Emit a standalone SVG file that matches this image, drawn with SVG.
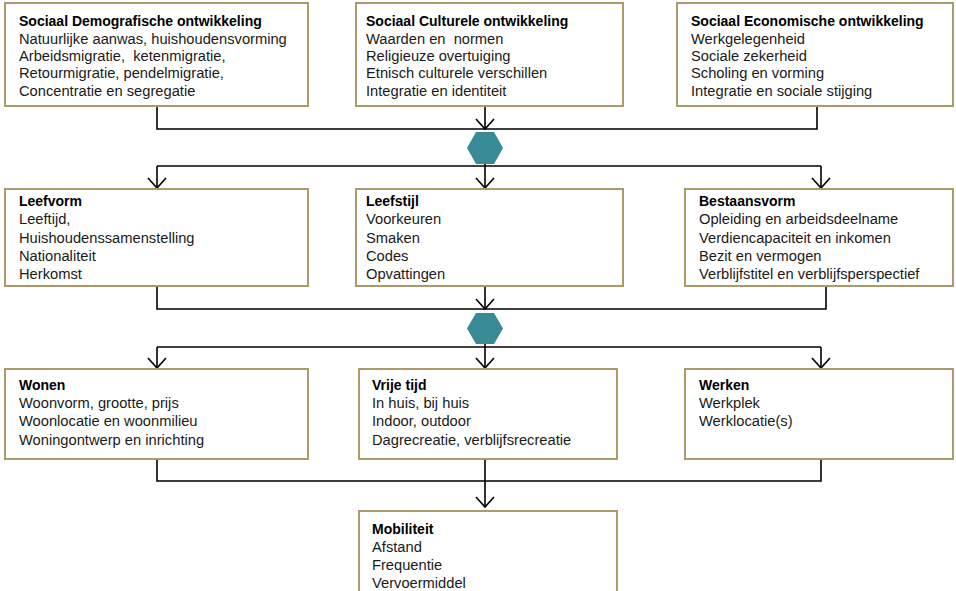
<svg xmlns="http://www.w3.org/2000/svg" width="956" height="591" viewBox="0 0 956 591">
<defs>
<style>
.box{fill:#fff;stroke:#ab9a6a;stroke-width:2}
.ln{fill:none;stroke:#000;stroke-width:1.6}
.hex{fill:#388b94}
text{font-family:"Liberation Sans",Arial,sans-serif;font-size:14.7px;fill:#1a1a1a;white-space:pre}
.t{font-weight:bold;font-size:14px;fill:#000}
</style>
<marker id="ah" markerUnits="userSpaceOnUse" markerWidth="14" markerHeight="22" refX="11" refY="10" orient="auto" viewBox="0 0 14 22">
<polyline points="1,1 11,10 1,19" fill="none" stroke="#000" stroke-width="1.6"/>
</marker>
</defs>
<rect width="956" height="591" fill="#fff"/>
<g id="connectors">
<path class="ln" d="M157,106 V129 H817 V106"/>
<path class="ln" d="M485,106 V129" marker-end="url(#ah)"/>
<path class="ln" d="M157,166 H821"/>
<path class="ln" d="M157,166 V188" marker-end="url(#ah)"/>
<path class="ln" d="M821,166 V188" marker-end="url(#ah)"/>
<path class="ln" d="M485,164 V188" marker-end="url(#ah)"/>
<path class="ln" d="M157,286 V309 H826 V286"/>
<path class="ln" d="M485,286 V309" marker-end="url(#ah)"/>
<path class="ln" d="M157,347 H821"/>
<path class="ln" d="M157,347 V368" marker-end="url(#ah)"/>
<path class="ln" d="M821,347 V368" marker-end="url(#ah)"/>
<path class="ln" d="M485,344 V368" marker-end="url(#ah)"/>
<path class="ln" d="M157,459 V481 H821 V459"/>
<path class="ln" d="M485,459 V507" marker-end="url(#ah)"/>
</g>
<g id="hex1"><polygon class="hex" points="467,148 476,132 494,132 503,148 494,164 476,164"/></g>
<g id="hex2"><polygon class="hex" points="467,328.5 476,313 494,313 503,328.5 494,344 476,344"/></g>
<g id="n-demo">
<rect class="box" x="5" y="3" width="303" height="103"/>
<text x="19" y="26" class="t">Sociaal Demografische ontwikkeling</text>
<text x="19" y="43.5">Natuurlijke aanwas, huishoudensvorming</text>
<text x="19" y="61">Arbeidsmigratie,  ketenmigratie,</text>
<text x="19" y="78">Retourmigratie, pendelmigratie,</text>
<text x="19" y="95.5">Concentratie en segregatie</text>
</g>
<g id="n-cult">
<rect class="box" x="356" y="3" width="267" height="103"/>
<text x="366" y="26" class="t">Sociaal Culturele ontwikkeling</text>
<text x="366" y="43.5">Waarden en  normen</text>
<text x="366" y="61">Religieuze overtuiging</text>
<text x="366" y="78">Etnisch culturele verschillen</text>
<text x="366" y="95.5">Integratie en identiteit</text>
</g>
<g id="n-econ">
<rect class="box" x="677" y="3" width="276" height="103"/>
<text x="691" y="26" class="t">Sociaal Economische ontwikkeling</text>
<text x="691" y="43.5">Werkgelegenheid</text>
<text x="691" y="61">Sociale zekerheid</text>
<text x="691" y="78">Scholing en vorming</text>
<text x="691" y="95.5">Integratie en sociale stijging</text>
</g>
<g id="n-leefvorm">
<rect class="box" x="5" y="189" width="303" height="97"/>
<text x="19" y="206" class="t">Leefvorm</text>
<text x="19" y="224">Leeftijd,</text>
<text x="19" y="242.5">Huishoudenssamenstelling</text>
<text x="19" y="261">Nationaliteit</text>
<text x="19" y="279">Herkomst</text>
</g>
<g id="n-leefstijl">
<rect class="box" x="356" y="189" width="267" height="97"/>
<text x="366" y="206" class="t">Leefstijl</text>
<text x="366" y="224">Voorkeuren</text>
<text x="366" y="242.5">Smaken</text>
<text x="366" y="261">Codes</text>
<text x="366" y="279">Opvattingen</text>
</g>
<g id="n-bestaansvorm">
<rect class="box" x="685" y="189" width="268" height="97"/>
<text x="699" y="206" class="t">Bestaansvorm</text>
<text x="699" y="224">Opleiding en arbeidsdeelname</text>
<text x="699" y="242.5">Verdiencapaciteit en inkomen</text>
<text x="699" y="261">Bezit en vermogen</text>
<text x="699" y="279">Verblijfstitel en verblijfsperspectief</text>
</g>
<g id="n-wonen">
<rect class="box" x="5" y="369" width="303" height="90"/>
<text x="19" y="390" class="t">Wonen</text>
<text x="19" y="408">Woonvorm, grootte, prijs</text>
<text x="19" y="426">Woonlocatie en woonmilieu</text>
<text x="19" y="444.5">Woningontwerp en inrichting</text>
</g>
<g id="n-vrijetijd">
<rect class="box" x="359" y="369" width="258" height="90"/>
<text x="372" y="390" class="t">Vrije tijd</text>
<text x="372" y="408">In huis, bij huis</text>
<text x="372" y="426">Indoor, outdoor</text>
<text x="372" y="444.5">Dagrecreatie, verblijfsrecreatie</text>
</g>
<g id="n-werken">
<rect class="box" x="685" y="369" width="268" height="90"/>
<text x="699" y="390" class="t">Werken</text>
<text x="699" y="408">Werkplek</text>
<text x="699" y="426">Werklocatie(s)</text>
</g>
<g id="n-mobiliteit">
<rect class="box" x="359" y="511" width="258" height="100"/>
<text x="372" y="534" class="t">Mobiliteit</text>
<text x="372" y="552">Afstand</text>
<text x="372" y="570">Frequentie</text>
<text x="372" y="587.5">Vervoermiddel</text>
</g>
</svg>
